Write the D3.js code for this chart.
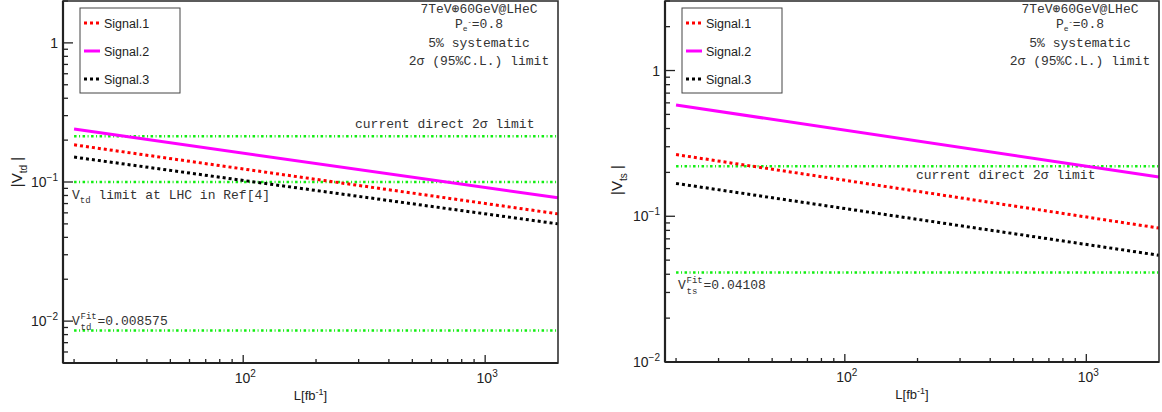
<!DOCTYPE html>
<html><head><meta charset="utf-8">
<script src="https://cdn.jsdelivr.net/npm/d3@7/dist/d3.min.js"></script>
<style>
body{margin:0;background:#fff;}
svg{display:block;}
.sans{font-family:"Liberation Sans",Arial,Helvetica,sans-serif;}
.mono{font-family:"Liberation Mono","Courier New",monospace;}
</style></head>
<body>
<svg id="chart" width="1162" height="412"></svg>
<script>
// ---------- data ----------
const lumi = [20, 2000];                 // L [fb^-1] endpoints of each limit curve
const seriesNames = ["Signal.1", "Signal.2", "Signal.3"];
// left panel |V_td|
const vtdSignal1 = [0.185, 0.059];
const vtdSignal2 = [0.240, 0.077];
const vtdSignal3 = [0.151, 0.050];
const vtdDirect = 0.213;
const vtdLHC = 0.1;
const vtdFit = 0.008575;
// right panel |V_ts|
const vtsSignal1 = [0.265, 0.083];
const vtsSignal2 = [0.580, 0.186];
const vtsSignal3 = [0.168, 0.054];
const vtsDirect = 0.22;
const vtsFit = 0.04108;
// axis tick labels
const xMajorTicks = [100, 1000];
const xMajorLabels = [["10","2"], ["10","3"]];
const yMajorTicks = [1, 0.1, 0.01];
const yMajorLabels = [["1",""], ["10","\u22121"], ["10","\u22122"]];
const infoLines = ["7TeV\u229560GeV@LHeC", "Pe=0.8", "5% systematic", "2\u03c3 (95%C.L.) limit"];

// ---------- styles ----------
const styles = [
  {color:"#ff0000", width:3, dash:"3,3"},
  {color:"#ff00ff", width:3, dash:null},
  {color:"#000000", width:3, dash:"3,3"}
];
const greenStyle = {color:"#11ee11", width:2.5, dash:"2.5,2.5,1,2.5"};

const svg = d3.select("#chart");

function drawPanel(cfg){
  const g = svg.append("g");
  const x = d3.scaleLog().domain([18, 2000]).range([cfg.x0, cfg.x1]);
  const y = d3.scaleLog().domain(cfg.ydom).range([cfg.y1, cfg.y0]);

  // reference (green) lines
  cfg.refs.forEach(v=>{
    g.append("line").attr("x1", x(lumi[0])).attr("x2", x(lumi[1]))
      .attr("y1", y(v)).attr("y2", y(v))
      .attr("stroke", greenStyle.color).attr("stroke-width", greenStyle.width)
      .attr("stroke-dasharray", greenStyle.dash);
  });

  // signal curves
  const line = d3.line().x((d,i)=>x(lumi[i])).y(d=>y(d));
  cfg.series.forEach((s,i)=>{
    g.append("path").datum(s).attr("d", line).attr("fill","none")
      .attr("stroke", styles[i].color).attr("stroke-width", styles[i].width)
      .attr("stroke-dasharray", styles[i].dash);
  });

  // frame
  g.append("rect").attr("x", cfg.x0).attr("y", cfg.y0)
    .attr("width", cfg.x1-cfg.x0).attr("height", cfg.y1-cfg.y0)
    .attr("fill","none").attr("stroke","#333").attr("stroke-width",1.6);
  g.append("line").attr("x1",cfg.x0).attr("x2",cfg.x0).attr("y1",cfg.y0).attr("y2",cfg.y1)
    .attr("stroke","#222").attr("stroke-width",2.2);
  g.append("line").attr("x1",cfg.x0).attr("x2",cfg.x1).attr("y1",cfg.y1).attr("y2",cfg.y1)
    .attr("stroke","#222").attr("stroke-width",2.2);

  // y ticks (inward)
  y.ticks().forEach(t=>{
    const major = Math.abs(Math.log10(t) - Math.round(Math.log10(t))) < 1e-9;
    g.append("line").attr("x1",cfg.x0).attr("x2",cfg.x0 + (major?10:5))
      .attr("y1",y(t)).attr("y2",y(t)).attr("stroke","#222").attr("stroke-width",1.3);
  });
  // x ticks (inward)
  x.ticks().forEach(t=>{
    if (x(t) > cfg.x1 - 0.5) return;
    const major = Math.abs(Math.log10(t) - Math.round(Math.log10(t))) < 1e-9;
    g.append("line").attr("y1",cfg.y1).attr("y2",cfg.y1 - (major?8:4))
      .attr("x1",x(t)).attr("x2",x(t)).attr("stroke","#222").attr("stroke-width",1.3);
  });

  // y tick labels
  yMajorTicks.forEach((t,i)=>{
    const tx = g.append("text").attr("class","sans").attr("x",cfg.x0-5).attr("y",y(t)+5)
      .attr("text-anchor","end").attr("font-size",14).attr("fill","#222");
    tx.append("tspan").text(yMajorLabels[i][0]);
    if (yMajorLabels[i][1]) tx.append("tspan").attr("dy",-6).attr("font-size",10).text(yMajorLabels[i][1]);
  });
  // x tick labels
  xMajorTicks.forEach((t,i)=>{
    const tx = g.append("text").attr("class","sans").attr("x",x(t)+2).attr("y",cfg.y1+20)
      .attr("text-anchor","middle").attr("font-size",14).attr("fill","#222");
    tx.append("tspan").text(xMajorLabels[i][0]);
    tx.append("tspan").attr("dy",-6).attr("font-size",10).text(xMajorLabels[i][1]);
  });

  // x axis title
  const xt = g.append("text").attr("class","sans").attr("x",(cfg.x0+cfg.x1)/2)
    .attr("y",cfg.y1+37).attr("text-anchor","middle").attr("font-size",13).attr("fill","#222");
  xt.append("tspan").text("L[fb");
  xt.append("tspan").attr("dy",-5).attr("font-size",9).text("-1");
  xt.append("tspan").attr("dy",5).text("]");

  // y axis title
  const yt = g.append("text").attr("class","sans")
    .attr("transform",`translate(${cfg.ytx},${cfg.yty}) rotate(-90)`)
    .attr("text-anchor","middle").attr("font-size",15).attr("fill","#222");
  yt.append("tspan").text("|V");
  yt.append("tspan").attr("dy",5).attr("font-size",10).text(cfg.sub);
  yt.append("tspan").attr("dy",-5).text(" |");

  // legend
  const lx = cfg.x0 + 17, ly = 8;
  g.append("rect").attr("x",lx).attr("y",ly).attr("width",100).attr("height",85)
    .attr("fill","#fff").attr("stroke","#444").attr("stroke-width",1);
  seriesNames.forEach((n,i)=>{
    const yy = ly + 15 + i*28;
    g.append("line").attr("x1",lx+4).attr("x2",lx+20).attr("y1",yy).attr("y2",yy)
      .attr("stroke",styles[i].color).attr("stroke-width",styles[i].width)
      .attr("stroke-dasharray",styles[i].dash);
    g.append("text").attr("class","sans").attr("x",lx+24).attr("y",yy+4.5)
      .attr("font-size",12.5).attr("fill","#222").text(n);
  });

  // info text
  const cx = cfg.infoX;
  const mono = (xx,yy,anchor)=>g.append("text").attr("class","mono").attr("x",xx).attr("y",yy)
      .attr("text-anchor",anchor).attr("font-size",13).attr("fill","#333");
  mono(cx,13,"middle").text(infoLines[0]);
  const p = mono(cx,28,"middle");
  p.append("tspan").text("P");
  p.append("tspan").attr("dy",3).attr("font-size",8).text("e");
  p.append("tspan").attr("dy",-7).attr("font-size",7).text("-");
  p.append("tspan").attr("dy",4).text("=0.8");
  mono(cx,47,"middle").text(infoLines[2]);
  mono(cx,65,"middle").text(infoLines[3]);

  // direct-limit label
  mono(cfg.directX, cfg.directY, "start").text("current direct 2\u03c3 limit");

  // fit label: V with superscript Fit and subscript stacked under it
  const f = g.append("g");
  f.append("text").attr("class","mono").attr("x",cfg.fitX).attr("y",cfg.fitY)
    .attr("font-size",13).attr("fill","#333").text("V");
  f.append("text").attr("class","mono").attr("x",cfg.fitX+8.5).attr("y",cfg.fitY-6)
    .attr("font-size",9).attr("fill","#333").text("Fit");
  f.append("text").attr("class","mono").attr("x",cfg.fitX+8.5).attr("y",cfg.fitY+5)
    .attr("font-size",9).attr("fill","#333").text(cfg.sub);
  f.append("text").attr("class","mono").attr("x",cfg.fitX+25.5).attr("y",cfg.fitY)
    .attr("font-size",13).attr("fill","#333").text("=" + cfg.fitText);

  return {g, mono};
}

const left = drawPanel({
  x0:63, x1:558, y0:1, y1:363, ydom:[0.005, 2],
  series:[vtdSignal1, vtdSignal2, vtdSignal3], refs:[vtdDirect, vtdLHC, vtdFit],
  sub:"td", ytx:22, yty:172, infoX:479,
  directX:355, directY:128, fitX:72, fitY:325, fitText:String(vtdFit)
});
// LHC limit label (left only)
const lt = left.mono(72, 199, "start");
lt.append("tspan").text("V");
lt.append("tspan").attr("dy",4).attr("font-size",9).text("td");
lt.append("tspan").attr("dy",-4).text(" limit at LHC in Ref[4]");

drawPanel({
  x0:665, x1:1159, y0:1, y1:362, ydom:[0.01, 3],
  series:[vtsSignal1, vtsSignal2, vtsSignal3], refs:[vtsDirect, vtsFit],
  sub:"ts", ytx:622, yty:180, infoX:1080,
  directX:916, directY:179, fitX:678, fitY:289, fitText:String(vtsFit)
});
</script>
</body></html>
